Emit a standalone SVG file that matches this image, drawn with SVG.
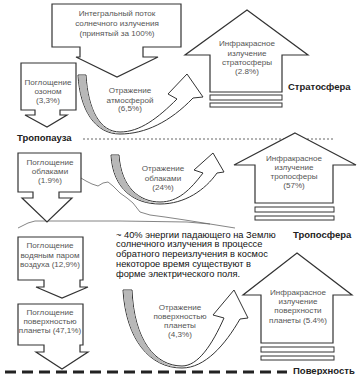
<svg xmlns="http://www.w3.org/2000/svg" width="357" height="375" viewBox="0 0 357 375">
<style>
.shape{fill:#fff;stroke:#333;stroke-width:1.2;stroke-linejoin:miter}
.band{fill:#fff;stroke:#333;stroke-width:1}
.gray{fill:#b8b8b8;stroke:none}
.bar{fill:#fff;stroke:#333;stroke-width:1}
.t{font-family:"Liberation Sans",Arial,sans-serif;font-size:8.1px;fill:#555;text-anchor:middle}
.lbl{font-family:"Liberation Sans",Arial,sans-serif;font-size:9.5px;font-weight:bold;fill:#222}
.para{font-family:"Liberation Sans",Arial,sans-serif;font-size:9.3px;fill:#111}
.ridge{fill:none;stroke:#666;stroke-width:0.8}
</style>
<rect width="357" height="375" fill="#fff"/>

<g id="terrain">
<polyline class="ridge" points="18,228 28,223 35,221 60,221 120,221 187,222 210,224 235,228"/>
<polyline class="ridge" points="81,178 86,181 92,184 98,186 103,183 108,182 113,186 120,193 127,198 133,203 140,212 150,215 165,217 185,220 210,224"/>
</g>

<g id="connectors">
<line x1="83" y1="139" x2="335" y2="139" stroke="#555" stroke-width="0.9" stroke-dasharray="2,2"/>
<line x1="5" y1="372" x2="287" y2="372" stroke="#222" stroke-width="3" stroke-dasharray="11,6"/>
</g>

<g id="n-integral">
<path class="shape" d="M52,4 H181 V47 H143 V57 H158 L117,77 L76,57 H80 V47 H52 Z"/>
<text class="t" x="117" y="16">Интегральный поток</text>
<text class="t" x="117" y="26">солнечного излучения</text>
<text class="t" x="117" y="36">(принятый за 100%)</text>
</g>

<g id="n-ozone">
<path class="shape" d="M21,63 H76 V110 H60 V115 H67 L47,127 L25,115 H35 V110 H21 Z"/>
<text class="t" x="48" y="85">Поглощение</text>
<text class="t" x="48" y="94">озоном</text>
<text class="t" x="48" y="103">(3,3%)</text>
</g>

<g id="n-clouds">
<path class="shape" d="M18,153 H81 V192 H59 V198 H72 L47,222 L22,198 H33 V192 H18 Z"/>
<text class="t" x="50" y="165">Поглощение</text>
<text class="t" x="50" y="174">облаками</text>
<text class="t" x="50" y="183">(1.9%)</text>
</g>

<g id="n-vapor">
<path class="shape" d="M18,237 H83 V280 H80 V287 H88 L62,298 L36,287 H44 V280 H18 Z"/>
<text class="t" x="50" y="248">Поглощение</text>
<text class="t" x="50" y="258">водяным  паром</text>
<text class="t" x="50" y="267">воздуха (12,9%)</text>
</g>

<g id="n-surface">
<path class="shape" d="M18,304 H83 V345 H80 V352 H88 L62,369 L36,352 H44 V345 H18 Z"/>
<text class="t" x="50" y="315">Поглощение</text>
<text class="t" x="50" y="324">поверхностью</text>
<text class="t" x="50" y="333">планеты  (47,1%)</text>
</g>

<g id="n-ir-strato">
<path class="shape" d="M247,10 L308,55 H282 V92 H210 V55 H185 Z"/>
<rect class="bar" x="210" y="95" width="72" height="5"/>
<rect class="bar" x="210" y="103" width="72" height="4"/>
<text class="t" x="247" y="46">Инфракрасное</text>
<text class="t" x="247" y="56">излучение</text>
<text class="t" x="247" y="65">стратосферы</text>
<text class="t" x="247" y="74">(2.8%)</text>
</g>

<g id="n-ir-tropo">
<path class="shape" d="M295,133 L356,165 H333 V203 H255 V165 H234 Z"/>
<rect class="bar" x="255" y="207" width="79" height="5"/>
<rect class="bar" x="255" y="216" width="79" height="4"/>
<text class="t" x="294" y="161">Инфракрасное</text>
<text class="t" x="294" y="170">излучение</text>
<text class="t" x="294" y="179">тропосферы</text>
<text class="t" x="294" y="188">(57%)</text>
</g>

<g id="n-ir-surface">
<path class="shape" d="M297,253 L352,295 H333 V343 H261 V295 H243 Z"/>
<rect class="bar" x="261" y="347" width="73" height="5"/>
<rect class="bar" x="261" y="356" width="73" height="4"/>
<text class="t" x="298" y="295">Инфракрасное</text>
<text class="t" x="298" y="304">излучение</text>
<text class="t" x="298" y="313">поверхности</text>
<text class="t" x="298" y="323">планеты  (5.4%)</text>
</g>

<g id="n-refl-atm">
<path class="band" d="M78,75 C80,110 95,134 120,134 C145,134 170,122 193,98 L203,97 L187,74 L168,94 L177,99 C158,118 140,132 120,132 C100,132 88,110 86,75 Z"/>
<path class="gray" d="M78.5,75.5 C80.5,110 95,133.5 120,133.5 C100,132 88,110 85.5,75.5 Z"/>
<text class="t" x="130" y="93">Отражение</text>
<text class="t" x="130" y="103">атмосферой</text>
<text class="t" x="130" y="111">(6,5%)</text>
</g>

<g id="n-refl-clouds">
<path class="band" d="M111,155 C113,190 135,204 160,204 C185,204 205,190 217,173 L224,172 L213,153 L194,170 L203,173 C190,190 178,202 160,202 C140,202 121,188 119,155 Z"/>
<path class="gray" d="M111.5,155.5 C113.5,190 135,203.5 160,203.5 C140,202 121,188 118.5,155.5 Z"/>
<text class="t" x="163" y="171">Отражение</text>
<text class="t" x="163" y="181">облаками</text>
<text class="t" x="163" y="190">(24%)</text>
</g>

<g id="n-refl-surface">
<path class="band" d="M123,290 C126,340 150,368 182,368 C205,368 225,345 240,319 L248,318 L234,290 L213,315 L224,318 C212,345 198,366 182,366 C155,366 134,340 132,290 Z"/>
<path class="gray" d="M123.5,290.5 C126.5,340 150,367.5 182,367.5 C155,366 134,340 131.5,290.5 Z"/>
<text class="t" x="180" y="310">Отражение</text>
<text class="t" x="180" y="319">поверхностью</text>
<text class="t" x="180" y="328">планеты</text>
<text class="t" x="180" y="337">(4,3%)</text>
</g>

<g id="labels">
<text class="lbl" x="288" y="90">Стратосфера</text>
<text class="lbl" x="17" y="141">Тропопауза</text>
<text class="lbl" x="293" y="238">Тропосфера</text>
<text class="lbl" x="293" y="374">Поверхность</text>
</g>

<g id="note">
<text class="para" x="116" y="237.5">~ 40% энергии падающего на Землю</text>
<text class="para" x="116" y="247.3">солнечного излучения в процессе</text>
<text class="para" x="116" y="257.1">обратного переизлучения в космос</text>
<text class="para" x="116" y="266.9">некоторое время существуют в</text>
<text class="para" x="116" y="276.7">форме электрического поля.</text>
</g>
</svg>
